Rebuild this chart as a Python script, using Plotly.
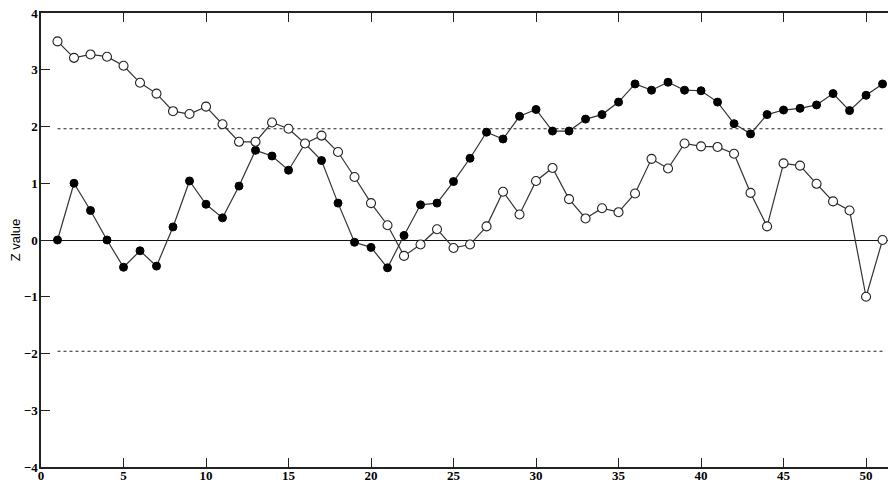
import plotly.graph_objects as go

# sample index
x_index = list(range(1, 52))

# open-circle series
z_open = [3.50, 3.21, 3.27, 3.23, 3.07, 2.77, 2.58, 2.27, 2.22, 2.35,
          2.04, 1.73, 1.73, 2.07, 1.96, 1.70, 1.84, 1.55, 1.11, 0.65,
          0.26, -0.28, -0.08, 0.19, -0.14, -0.08, 0.24, 0.85, 0.45, 1.04,
          1.27, 0.72, 0.38, 0.56, 0.49, 0.82, 1.43, 1.26, 1.70, 1.65,
          1.64, 1.52, 0.83, 0.24, 1.35, 1.31, 0.99, 0.68, 0.52, -1.00,
          0.00]

# filled-circle series
z_filled = [0.00, 1.00, 0.52, 0.00, -0.48, -0.19, -0.46, 0.23, 1.04, 0.63,
            0.39, 0.95, 1.58, 1.48, 1.23, 1.70, 1.40, 0.65, -0.04, -0.13,
            -0.49, 0.08, 0.62, 0.65, 1.03, 1.44, 1.90, 1.78, 2.18, 2.30,
            1.92, 1.92, 2.13, 2.21, 2.43, 2.75, 2.64, 2.78, 2.64, 2.63,
            2.43, 2.05, 1.87, 2.21, 2.29, 2.32, 2.38, 2.58, 2.28, 2.55,
            2.75]

critical_z = 1.96
x_ticks = [0, 5, 10, 15, 20, 25, 30, 35, 40, 45, 50]
y_ticks = [-4, -3, -2, -1, 0, 1, 2, 3, 4]

fig = go.Figure()

# reference lines
for c in (critical_z, -critical_z):
    fig.add_trace(go.Scatter(
        x=[x_index[0], x_index[-1]], y=[c, c], mode="lines",
        line=dict(color="#222", width=1.2, dash="dot"),
        hoverinfo="skip", showlegend=False))

fig.add_trace(go.Scatter(
    x=x_index, y=z_filled, mode="lines+markers",
    line=dict(color="#333", width=1.2),
    marker=dict(symbol="circle", size=8, color="black",
                line=dict(color="black", width=1)),
    showlegend=False))

fig.add_trace(go.Scatter(
    x=x_index, y=z_open, mode="lines+markers",
    line=dict(color="#333", width=1.2),
    marker=dict(symbol="circle", size=9, color="white",
                line=dict(color="#222", width=1.1)),
    showlegend=False))

tick_font = dict(family="Liberation Serif, Times New Roman, serif", size=13,
                 color="black", weight="bold")

fig.update_layout(
    width=888, height=482,
    margin=dict(l=41, r=0, t=13, b=15, autoexpand=False),
    paper_bgcolor="white", plot_bgcolor="white",
    xaxis=dict(
        range=[0, 51.33], tickvals=x_ticks, ticks="inside", ticklen=9,
        tickwidth=1.3, tickcolor="#222", showline=True, linecolor="#222",
        linewidth=1.5, mirror="ticks", showgrid=False, zeroline=False,
        tickfont=tick_font, ticklabelstandoff=-4, automargin=False),
    yaxis=dict(
        range=[-4, 4], tickvals=y_ticks, ticks="inside", ticklen=9,
        tickwidth=1.3, tickcolor="#222", showline=True, linecolor="#222",
        linewidth=1.5, showgrid=False, zeroline=True, zerolinecolor="#111",
        zerolinewidth=1.4, tickfont=tick_font, ticklabelstandoff=-1,
        automargin=False,
        title=dict(text="Z value", font=dict(family="Liberation Sans", size=13,
                                              color="black"), standoff=0)),
)

fig.write_html("out.html",
               config={"displayModeBar": False},
               post_script="document.body.style.margin='0';")
